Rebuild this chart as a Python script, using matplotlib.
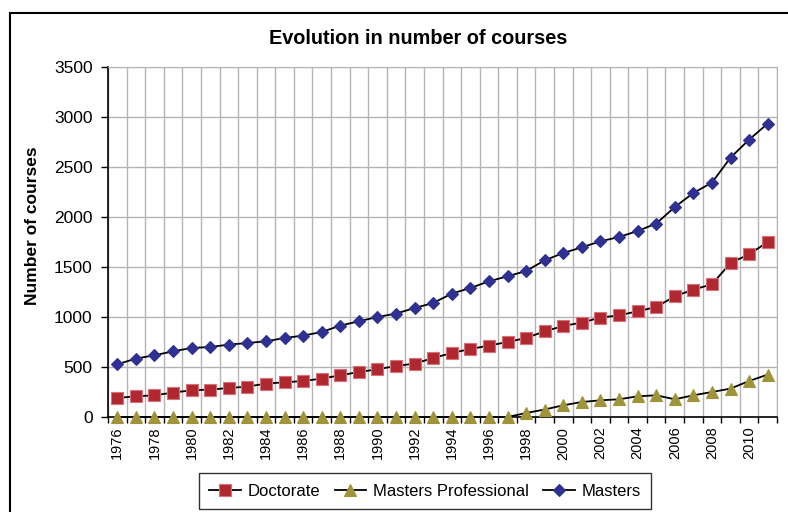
import matplotlib

matplotlib.use("Agg")
import matplotlib.pyplot as plt
from matplotlib.patches import Rectangle
import numpy as np

plt.rcParams["font.family"] = ["Liberation Sans", "DejaVu Sans"]

YEARS = list(range(1976, 2012))
DOCTORATE = [
    190, 207, 217, 244, 267, 274, 290, 304, 334, 347, 360, 384, 417,
    450, 477, 510, 534, 590, 640, 680, 714, 750, 790, 857, 910, 945,
    994, 1017, 1057, 1100, 1207, 1274, 1327, 1540, 1627, 1750,
]
MASTERS_PROF = [
    0, 0, 0, 0, 0, 0, 0, 0, 0, 0, 0, 0, 0,
    0, 0, 0, 0, 0, 0, 0, 0, 0, 40, 75, 117, 150,
    167, 177, 207, 217, 177, 217, 250, 284, 360, 424,
]
MASTERS = [
    527, 584, 617, 657, 690, 700, 724, 740, 757, 790, 814, 850, 914,
    957, 1000, 1034, 1090, 1140, 1234, 1290, 1357, 1407, 1460, 1567, 1640, 1697,
    1757, 1800, 1860, 1934, 2100, 2240, 2344, 2594, 2774, 2934,
]
SERIES = [
    ("Doctorate", DOCTORATE, "s", "#B0282F", "#D9707A", 8.5),
    ("Masters Professional", MASTERS_PROF, "^", "#A0943A", "#A0943A", 8.5),
    ("Masters", MASTERS, "D", "#2E3192", "#2E3192", 6.5),
]

W, H = 788, 512
fig = plt.figure(figsize=(W / 100, H / 100), dpi=100)
fig.patches.append(Rectangle((10 / W, -0.1), 1.2, 1 - 13 / H + 0.1, transform=fig.transFigure,
                             fill=False, edgecolor="black", linewidth=1.5))

ax = fig.add_axes([108 / W, 1 - 417 / H, (777 - 108) / W, (417 - 67) / H])
x = np.arange(len(YEARS))
for name, vals, marker, color, edge, ms in SERIES:
    ax.plot(x, vals, color="black", linewidth=1.3, marker=marker, markersize=ms,
            markerfacecolor=color, markeredgecolor=edge, markeredgewidth=0.8, label=name,
            clip_on=False, zorder=3)

ax.set_xlim(-0.5, len(YEARS) - 0.5)
ax.set_ylim(0, 3500)
ax.set_yticks(range(0, 3501, 500))
ax.set_xticks(x[::2])
ax.set_xticklabels([str(y) for y in YEARS[::2]], rotation=90, fontsize=10.5)
ax.set_xticks(np.arange(-0.5, len(YEARS), 1), minor=True)
ax.tick_params(axis="x", which="major", length=0, pad=7)
ax.tick_params(axis="x", which="minor", length=4, width=1, direction="out", color="black")
ax.tick_params(axis="y", labelsize=12.5, length=5, width=1, direction="out", pad=6)
ax.grid(True, which="minor", axis="x", color="#b4b4b4", linewidth=1)
ax.grid(True, which="major", axis="y", color="#b4b4b4", linewidth=1)
ax.set_axisbelow(True)
for side in ("top", "right"):
    ax.spines[side].set_color("#b4b4b4")
for side in ("left", "bottom"):
    ax.spines[side].set_color("black")
    ax.spines[side].set_linewidth(1.2)

fig.text(33 / W, 1 - 226 / H, "Number of courses", rotation=90, ha="center", va="center",
         fontsize=12.5, fontweight="bold")
fig.text(418 / W, 1 - 39 / H, "Evolution in number of courses", ha="center", va="center",
         fontsize=14.3, fontweight="bold")

leg = fig.legend(loc="center", bbox_to_anchor=(425 / W, 1 - 491 / H), ncol=3, fontsize=12,
                 frameon=True, fancybox=False, edgecolor="black", handlelength=1.9,
                 columnspacing=0.85, handletextpad=0.4, borderpad=0.65)
leg.get_frame().set_linewidth(1)

fig.savefig("out.png", dpi=100)
